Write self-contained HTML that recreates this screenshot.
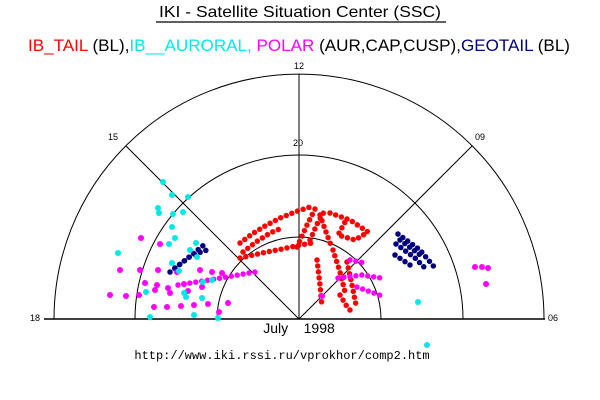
<!DOCTYPE html>
<html><head><style>body{margin:0;background:#fff}svg{display:block}</style></head><body>
<svg width="600" height="400" xmlns="http://www.w3.org/2000/svg" font-family="Liberation Sans, sans-serif">
<rect width="600" height="400" fill="#fff"/>
<text x="159" y="17" font-size="16" textLength="282" lengthAdjust="spacingAndGlyphs">IKI - Satellite Situation Center (SSC)</text>
<line x1="156" y1="22" x2="446" y2="22" stroke="#000" stroke-width="1.2"/>
<text x="28" y="51" font-size="17" textLength="542" lengthAdjust="spacingAndGlyphs"><tspan fill="#ff0000">IB_TAIL</tspan> (BL),<tspan fill="#00e8e8">IB__AURORAL, </tspan><tspan fill="#ff00ff">POLAR</tspan> (AUR,CAP,CUSP),<tspan fill="#000080">GEOTAIL</tspan> (BL)</text>
<g font-size="9" text-anchor="middle">
<text x="299" y="69">12</text><text x="113" y="140">15</text><text x="480" y="140">09</text>
<text x="298" y="146">20</text><text x="35" y="321">18</text><text x="553" y="321">06</text></g>
<g fill="none" stroke="#000" stroke-width="1">
<path d="M54 319 A245 245 0 0 1 544 319"/>
<path d="M135 319 A164 164 0 0 1 463 319"/>
<path d="M217 319 A82 82 0 0 1 381 319"/>
<line x1="299" y1="319" x2="126" y2="146"/><line x1="299" y1="319" x2="472" y2="146"/>
<line x1="299" y1="319" x2="299" y2="74"/>
</g>
<line x1="44" y1="319" x2="545" y2="319" stroke="#000" stroke-width="1.5"/>
<g fill="none" stroke-linecap="round" stroke-width="5.5" stroke-dasharray="0 6">
<g stroke="#ff0000">
<polyline points="240,243 252,234 265,226 280,218 295,212 310,207"/>
<polyline points="243,252 256,242 270,233 282,228"/>
<polyline points="240,258 262,253 282,249 300,245 312,243"/>
<polyline points="297,247 307,225 317,205"/>
<polyline points="310,240 318,222 324,212"/>
<polyline points="320,215 326,232 332,248"/>
<polyline points="330,213 350,220 368,232 355,240 338,235 345,222"/>
<polyline points="317,260 320,285 322,307"/>
<polyline points="333,250 340,272 345,292"/>
<polyline points="347,262 352,285 356,305"/>
<polyline points="340,295 346,305 350,310"/>
</g>
<g stroke="#ff00ff">
<polyline points="178,285 215,279 255,272"/>
<polyline points="350,260 365,263"/>
<polyline points="338,278 362,275 381,278"/>
<polyline points="357,287 382,296"/>
</g>
<g stroke="#000080">
<polyline points="170,272 188,258 205,244"/>
<polyline points="175,268 192,255 207,250"/>
<polyline points="398,234 420,250 435,268"/>
<polyline points="396,244 415,258 425,268"/>
<polyline points="395,255 410,265"/>
<polyline points="400,240 423,257"/>
</g>
</g>
<g fill="#ff00ff">
<circle cx="141" cy="238" r="3"/><circle cx="120" cy="270" r="3"/><circle cx="140" cy="270" r="3"/><circle cx="158" cy="270" r="3"/><circle cx="177" cy="272" r="3"/><circle cx="160" cy="244" r="3"/>
<circle cx="110" cy="295" r="3"/><circle cx="126" cy="296" r="3"/><circle cx="139" cy="295" r="3"/><circle cx="155" cy="290" r="3"/><circle cx="170" cy="293" r="3"/><circle cx="188" cy="291" r="3"/><circle cx="202" cy="287" r="3"/>
<circle cx="154" cy="307" r="3"/><circle cx="167" cy="307" r="3"/><circle cx="181" cy="306" r="3"/><circle cx="194" cy="305" r="3"/><circle cx="208" cy="304" r="3"/>
<circle cx="157" cy="285" r="3"/><circle cx="168" cy="288" r="3"/><circle cx="184" cy="284" r="3"/><circle cx="145" cy="283" r="3"/><circle cx="200" cy="270" r="3"/><circle cx="212" cy="272" r="3"/><circle cx="222" cy="273" r="3"/>
<circle cx="219" cy="312" r="3"/><circle cx="228" cy="303" r="3"/><circle cx="322" cy="296" r="3"/>
<circle cx="475" cy="267" r="3"/><circle cx="482" cy="267" r="3"/><circle cx="488" cy="268" r="3"/><circle cx="486" cy="284" r="3"/>
</g>
<g fill="#00e8e8">
<circle cx="163" cy="182" r="3"/><circle cx="172" cy="195" r="3"/><circle cx="188" cy="197" r="3"/><circle cx="159" cy="213" r="3"/><circle cx="173" cy="214" r="3"/><circle cx="183" cy="212" r="3"/>
<circle cx="158" cy="208" r="3"/><circle cx="172" cy="227" r="3"/><circle cx="175" cy="238" r="3"/><circle cx="196" cy="243" r="3"/><circle cx="118" cy="253" r="3"/><circle cx="169" cy="244" r="3"/>
<circle cx="197" cy="257" r="3"/><circle cx="172" cy="263" r="3"/><circle cx="179" cy="271" r="3"/><circle cx="203" cy="282" r="3"/><circle cx="146" cy="292" r="3"/>
<circle cx="184" cy="293" r="3"/><circle cx="202" cy="298" r="3"/><circle cx="186" cy="297" r="3"/><circle cx="212" cy="280" r="3"/><circle cx="150" cy="317" r="3"/>
<circle cx="194" cy="315" r="3"/><circle cx="218" cy="318" r="3"/><circle cx="418" cy="302" r="3"/><circle cx="427" cy="345" r="3"/><circle cx="190" cy="250" r="3"/>
</g>
<text x="299" y="333" font-size="14" text-anchor="middle" xml:space="preserve">July    1998</text>
<text x="282" y="359" font-size="12" font-family="Liberation Mono, monospace" text-anchor="middle">http://www.iki.rssi.ru/vprokhor/comp2.htm</text>
</svg>
</body></html>
